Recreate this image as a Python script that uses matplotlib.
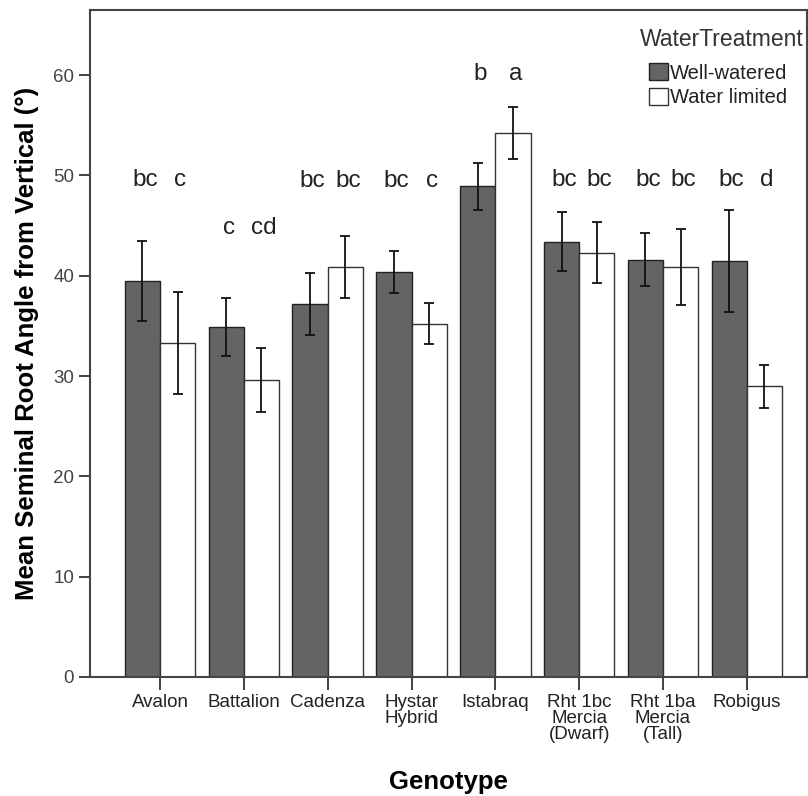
import numpy as np
import matplotlib.pyplot as plt
from matplotlib.patches import Patch

plt.rcParams['font.family'] = ['Liberation Sans', 'DejaVu Sans']

# Mean seminal root angle per genotype and treatment, with error bar half-widths
genotypes = ['Avalon', 'Battalion', 'Cadenza', 'Hystar\nHybrid', 'Istabraq',
             'Rht 1bc\nMercia\n(Dwarf)', 'Rht 1ba\nMercia\n(Tall)', 'Robigus']
well_watered = [39.5, 34.9, 37.2, 40.4, 48.9, 43.4, 41.6, 41.5]
well_err = [4.0, 2.85, 3.1, 2.1, 2.3, 2.95, 2.65, 5.1]
water_limited = [33.3, 29.6, 40.9, 35.2, 54.2, 42.3, 40.9, 29.0]
limited_err = [5.1, 3.2, 3.1, 2.05, 2.6, 3.05, 3.8, 2.15]

# significance letters and their heights
well_letters = ['bc', 'c', 'bc', 'bc', 'b', 'bc', 'bc', 'bc']
limited_letters = ['c', 'cd', 'bc', 'c', 'a', 'bc', 'bc', 'd']
letter_y = [49.5, 44.8, 49.4, 49.4, 60.1, 49.5, 49.5, 49.5]

x = np.arange(len(genotypes))
w = 0.42

fig = plt.figure(figsize=(8.08, 7.96), dpi=100)
ax = fig.add_axes([0.1114, 0.1495, 0.8876, 0.838])

ax.bar(x - w / 2, well_watered, w, color='#646464', edgecolor='#222222',
       linewidth=1.0, zorder=2)
ax.bar(x + w / 2, water_limited, w, color='white', edgecolor='#333333',
       linewidth=1.0, zorder=2)
ax.errorbar(x - w / 2, well_watered, yerr=well_err, fmt='none', ecolor='#111111',
            elinewidth=1.3, capsize=3.5, capthick=1.3, zorder=3)
ax.errorbar(x + w / 2, water_limited, yerr=limited_err, fmt='none', ecolor='#111111',
            elinewidth=1.3, capsize=3.5, capthick=1.3, zorder=3)

for i in range(len(genotypes)):
    ax.text(x[i] - w / 2 + 0.03, letter_y[i], well_letters[i], ha='center',
            va='center', fontsize=17.5, color='#222222')
    ax.text(x[i] + w / 2 + 0.03, letter_y[i], limited_letters[i], ha='center',
            va='center', fontsize=17.5, color='#222222')

ax.set_xlim(-0.835, 7.72)
ax.set_ylim(0, 66.5)
ax.set_yticks(range(0, 70, 10))
ax.set_xticks(x)
ax.set_xticklabels(genotypes, fontsize=13.5, color='#222222', linespacing=0.95)
ax.tick_params(axis='y', labelsize=13.5, labelcolor='#444444', length=8,
               width=1.3, color='#333333')
ax.tick_params(axis='x', length=9, width=1.3, color='#333333', pad=3)
for s in ax.spines.values():
    s.set_color('#444444')
    s.set_linewidth(1.5)

ax.set_xlabel('Genotype', fontsize=18.5, fontweight='bold', labelpad=19)
ax.set_ylabel('Mean Seminal Root Angle from Vertical (°)', fontsize=18.5,
              fontweight='bold', labelpad=10)

# legend title sits a little left of the entries
ax.text(0.767, 0.956, 'WaterTreatment', transform=ax.transAxes, ha='left',
        va='center', fontsize=16.5, color='#333333')
handles = [Patch(facecolor='#646464', edgecolor='#222222', label='Well-watered'),
           Patch(facecolor='white', edgecolor='#333333', label='Water limited')]
leg = ax.legend(handles=handles, loc='upper left', frameon=False,
                fontsize=14.5, handlelength=0.95, handleheight=0.95,
                handletextpad=0.1, labelspacing=0.25, borderpad=0,
                borderaxespad=0, bbox_to_anchor=(0.7794, 0.9205))
for t in leg.get_texts():
    t.set_color('#222222')

fig.savefig('out.png', dpi=100)
